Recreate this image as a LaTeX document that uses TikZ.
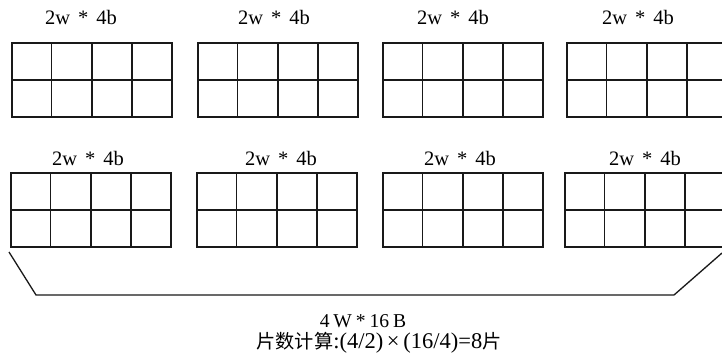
\documentclass[tikz,border=0pt]{standalone}
\usepackage{fontspec}
\usetikzlibrary{calc}
\setmainfont{Liberation Serif}
\newfontfamily\cjk{Noto Sans CJK SC}
\begin{document}
\begin{tikzpicture}[x=1pt,y=-1pt,
  grid/.style={draw=black!90, line width=1.5pt, minimum width=160pt, minimum height=74pt, inner sep=0pt, anchor=north west},
  inner/.style={draw=black!90, line width=1.5pt},
  lbl/.style={font=\fontsize{20.5}{20.5}\selectfont, inner sep=0pt},
  brk/.style={draw=black!90, line width=1.3pt}]
\useasboundingbox (0,0) rectangle (722,359);
% grids
\foreach \n/\x/\y in {1/11/42, 2/197/42, 3/382/42, 4/566/42, 5/10/172, 6/196/172, 7/382/172, 8/564/172}{
  \node[grid] (g\n) at (\x,\y) {};
  \draw[inner] (g\n.west) -- (g\n.east);
  \foreach \k in {1,2,3}{
    \draw[inner] ($(g\n.north west)!\k/4!(g\n.north east)$) -- ($(g\n.south west)!\k/4!(g\n.south east)$);
  }
}
% labels
\foreach \n/\x/\y in {1/81/17, 2/274/17, 3/453/17, 4/638/17, 5/88/158, 6/281/158, 7/460/158, 8/645/158}{
  \node[lbl] (l\n) at (\x,\y) {2w\hspace{0.39em}*\hspace{0.39em}4b};
}
% bracket
\coordinate (b1) at (9,252);
\coordinate (b2) at (36,295);
\coordinate (b3) at (674,295);
\coordinate (b4) at (722,253);
\draw[brk] (b1) -- (b2) -- (b3) -- (b4);
% bottom text
\node[lbl, font=\fontsize{19.6}{19.6}\selectfont] (t1) at (363,321) {4\hspace{0.2em}W\hspace{0.2em}*\hspace{0.2em}16\hspace{0.2em}B};
\node[lbl, font=\fontsize{22.5}{22.5}\selectfont] (t2) at (379,343) {{\cjk\fontsize{19.2}{19.2}\selectfont 片数计算}:(4/2)\,\texttimes\,(16/4)=8{\cjk\fontsize{19.2}{19.2}\selectfont 片}};
\end{tikzpicture}
\end{document}
